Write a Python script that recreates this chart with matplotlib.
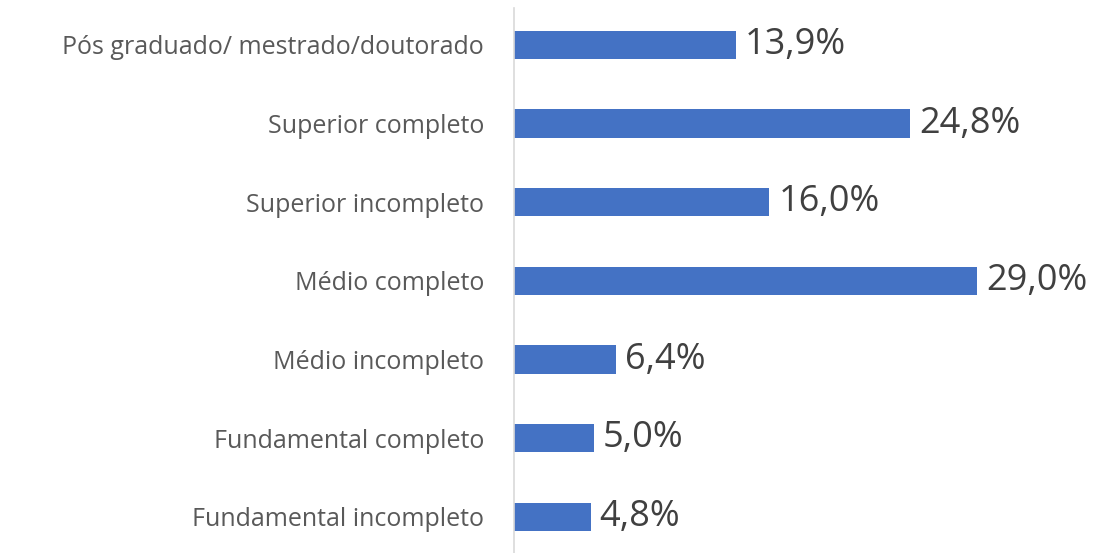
import matplotlib.pyplot as plt

categorias = ["Fundamental incompleto", "Fundamental completo", "Médio incompleto",
              "Médio completo", "Superior incompleto", "Superior completo",
              "Pós graduado/ mestrado/doutorado"]
valores = [4.8, 5.0, 6.4, 29.0, 16.0, 24.8, 13.9]

plt.rcParams['font.family'] = ['Open Sans', 'DejaVu Sans']

fig = plt.figure(figsize=(11.01, 5.53), dpi=100)
ax = fig.add_axes([514 / 1101, 0, 587 / 1101, 545 / 553])

pos = range(len(categorias))
ax.barh(pos, valores, height=0.36, color="#4472C4")
for p, v in zip(pos, valores):
    ax.text(v + 0.55, p, f"{v:.1f}%".replace(".", ","), va="center", ha="left",
            fontsize=26, color="#404040")

ax.set_xlim(0, 36.76)
ax.set_ylim(-0.46, 6.47)
ax.set_yticks(list(pos))
ax.set_yticklabels(categorias, fontsize=18, color="#595959")
ax.tick_params(axis="y", length=0, pad=21.5)
ax.set_xticks([])
for lado in ["top", "right", "bottom"]:
    ax.spines[lado].set_visible(False)
ax.spines["left"].set_color("#D9D9D9")
ax.spines["left"].set_linewidth(1.2)

fig.savefig("out.png", dpi=100)
